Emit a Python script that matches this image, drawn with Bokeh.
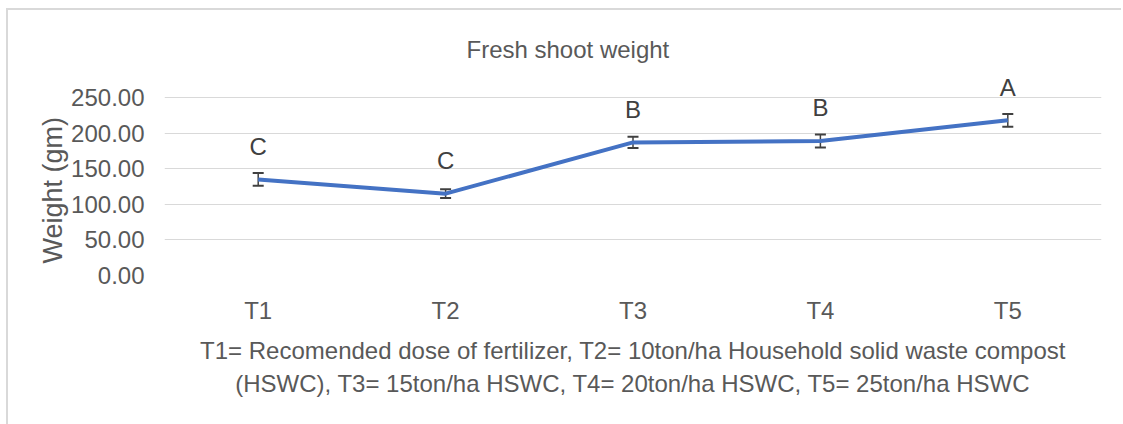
from bokeh.plotting import figure
from bokeh.models import ColumnDataSource, Whisker, TeeHead, LabelSet, Title, FixedTicker, NumeralTickFormatter
from bokeh.core.properties import value
from bokeh.embed import file_html
from bokeh.resources import INLINE

categories = ["T1", "T2", "T3", "T4", "T5"]
weights = [135.0, 115.0, 187.0, 189.0, 218.0]
errors = [9.0, 6.0, 8.0, 9.0, 9.0]
letters = ["C", "C", "B", "B", "A"]
y_ticks = [0, 50, 100, 150, 200, 250]
title_text = "Fresh shoot weight"
y_label = "Weight (gm)"
caption_lines = [
    "T1= Recomended dose of fertilizer, T2= 10ton/ha Household solid waste compost",
    "(HSWC), T3= 15ton/ha HSWC, T4= 20ton/ha HSWC, T5= 25ton/ha HSWC",
]

FONT = "Liberation Sans"
GRAY = "#595959"

src = ColumnDataSource(dict(
    x=categories, y=weights,
    upper=[w + e for w, e in zip(weights, errors)],
    lower=[w - e for w, e in zip(weights, errors)],
    letter=letters,
))

p = figure(x_range=categories, y_range=(0, 288), width=1115, height=416,
           output_backend="svg", toolbar_location=None,
           min_border_left=156, min_border_right=22, min_border_top=60, min_border_bottom=151)
p.styles = {"border-left": "2px solid #d9d9d9", "border-top": "2px solid #d9d9d9",
            "margin-left": "6px", "margin-top": "8px"}

p.title.text = title_text
p.title.align = "left"
p.title.offset = 302
p.title.text_font = FONT
p.title.text_font_size = "24px"
p.title.text_font_style = "normal"
p.title.text_color = GRAY
p.title.standoff = 15

p.outline_line_color = None
p.background_fill_color = "white"
p.border_fill_color = "white"

p.xgrid.grid_line_color = None
p.ygrid.grid_line_color = "#d9d9d9"
p.ygrid.grid_line_width = 1

p.yaxis.ticker = FixedTicker(ticks=y_ticks)
p.yaxis.formatter = NumeralTickFormatter(format="0.00")
for ax in (p.xaxis, p.yaxis):
    ax.axis_line_color = None
    ax.major_tick_line_color = None
    ax.minor_tick_line_color = None
    ax.major_label_text_font = FONT
    ax.major_label_text_font_size = "24px"
    ax.major_label_text_color = GRAY
p.yaxis.major_label_standoff = 14
p.xaxis.major_label_standoff = 15

ylab = Title(text=y_label, align="left", text_font=FONT, text_font_size="27px",
             text_font_style="normal", text_color=GRAY, standoff=1, offset=12)
p.add_layout(ylab, "left")

p.line("x", "y", source=src, line_color="#4472C4", line_width=4)

wh = Whisker(base="x", upper="upper", lower="lower", source=src,
             line_color="#404040", line_width=1.5,
             upper_head=TeeHead(size=11, line_color="#404040", line_width=2),
             lower_head=TeeHead(size=11, line_color="#404040", line_width=2))
p.add_layout(wh)

labels = LabelSet(x="x", y="y", text="letter", source=src, y_offset=33,
                  text_align="center", text_baseline="middle",
                  text_font=value(FONT), text_font_size="24px", text_color="#404040")
p.add_layout(labels)

for i, line in enumerate(caption_lines):
    t = Title(text=line, align="center", text_font=FONT, text_font_size="24px",
              text_font_style="normal", text_color=GRAY,
              standoff=16 if i == 0 else -7)
    p.add_layout(t, "below")

open("out.html", "w").write(file_html(p, INLINE))
